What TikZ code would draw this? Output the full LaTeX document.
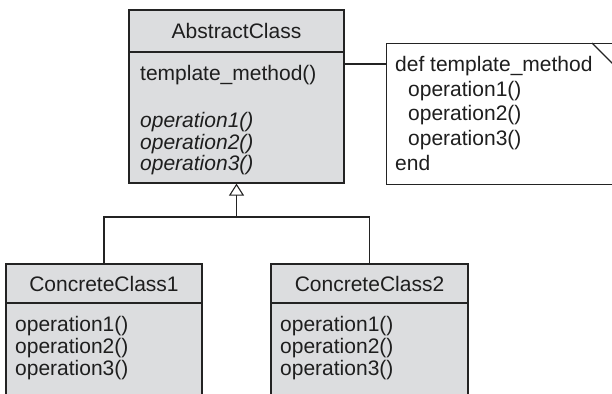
\documentclass[tikz,border=0pt]{standalone}
\usepackage{fontspec}
\setmainfont{Liberation Sans}
\usetikzlibrary{arrows.meta}
\definecolor{boxc}{RGB}{220,221,223}
\definecolor{linec}{RGB}{35,35,35}
\definecolor{txtc}{RGB}{30,30,30}
\begin{document}
\begin{tikzpicture}[x=1pt,y=-1pt,
  box/.style={draw=linec, fill=boxc, line width=1.2pt, inner sep=0pt, font=\fontsize{21}{24}\selectfont, text=txtc},
  notebox/.style={draw=linec, fill=white, line width=1.2pt, inner sep=0pt},
  ln/.style={anchor=base west, inner sep=0pt, font=\fontsize{21}{24}\selectfont, text=txtc},
  itln/.style={ln, font=\fontsize{21}{24}\selectfont\itshape},
  wire/.style={draw=linec, line width=1.1pt}]
\useasboundingbox (0,0) rectangle (612,393);
\clip (0,0) rectangle (612,393);
% abstract class
\node[box, minimum width=215pt, minimum height=42pt] (ahead) at (236.5,31) {AbstractClass};
\node[box, minimum width=215pt, minimum height=131pt] (abody) at (236.5,117.5) {};
\node[ln] (t0) at (140,81) {template\_method()};
\node[itln] (t1) at (140,128) {operation1()};
\node[itln] (t2) at (140,149) {operation2()};
\node[itln] (t3) at (140,170) {operation3()};
% note
\node[notebox, minimum width=254pt, minimum height=141pt, anchor=north west] (note) at (386,43) {};
\draw[wire] (note.north west) ++(206,0) -- ++(40,40);
\node[ln] (n0) at (395,72) {def template\_method};
\node[ln] (n1) at (408,96.5) {operation1()};
\node[ln] (n2) at (408,121) {operation2()};
\node[ln] (n3) at (408,145.5) {operation3()};
\node[ln] (n4) at (395,170) {end};
\coordinate (nl) at (0,64);
\draw[wire] (abody.east |- nl) -- (note.west |- nl);
% concrete class 1
\node[box, minimum width=196pt, minimum height=39pt] (c1head) at (104,283.5) {ConcreteClass1};
\node[box, minimum width=196pt, minimum height=117pt] (c1body) at (104,361.5) {};
\node[ln] (p1) at (15,331) {operation1()};
\node[ln] (p2) at (15,353) {operation2()};
\node[ln] (p3) at (15,375) {operation3()};
% concrete class 2
\node[box, minimum width=197pt, minimum height=39pt] (c2head) at (369.5,283.5) {ConcreteClass2};
\node[box, minimum width=197pt, minimum height=117pt] (c2body) at (369.5,361.5) {};
\node[ln] (q1) at (280,331) {operation1()};
\node[ln] (q2) at (280,353) {operation2()};
\node[ln] (q3) at (280,375) {operation3()};
% inheritance
\coordinate (jn) at (236.5,217);
\draw[wire] (c1head.north) |- (jn) -| (c2head.north);
\draw[wire, -{Triangle[open, length=12pt, width=15pt]}] (jn) -- (abody.south);
\end{tikzpicture}
\end{document}
